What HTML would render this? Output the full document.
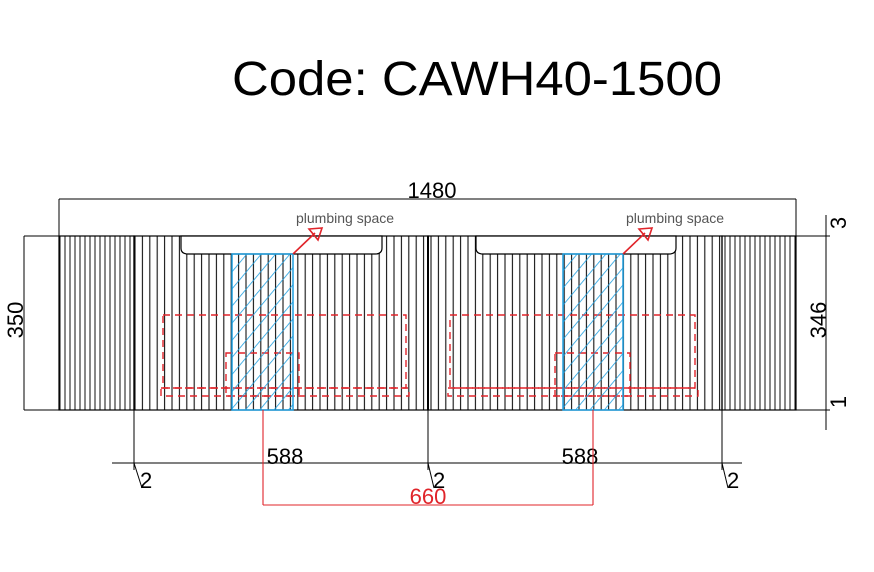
<!DOCTYPE html>
<html><head><meta charset="utf-8"><style>
body{margin:0;background:#fff;width:874px;height:572px;overflow:hidden}
svg{display:block}
</style></head><body>
<svg width="874" height="572" viewBox="0 0 874 572" xmlns="http://www.w3.org/2000/svg" font-family="Liberation Sans, sans-serif">
<defs>
<pattern id="str" x="134" y="0" width="7.4" height="10" patternUnits="userSpaceOnUse"><line x1="1" y1="0" x2="1" y2="10" stroke="#111" stroke-width="1.1"/></pattern>
<pattern id="str2" x="59" y="0" width="5" height="10" patternUnits="userSpaceOnUse"><line x1="1" y1="0" x2="1" y2="10" stroke="#111" stroke-width="1"/></pattern>
<pattern id="hat" width="11" height="11" patternUnits="userSpaceOnUse" patternTransform="rotate(40)"><line x1="0" y1="0" x2="0" y2="11" stroke="#1f9fe0" stroke-width="1.6"/></pattern>
</defs>
<text x="232" y="95" font-size="48" textLength="490" lengthAdjust="spacingAndGlyphs" fill="#000">Code: CAWH40-1500</text>
<rect x="59" y="236" width="75" height="174" fill="url(#str2)" stroke="#000" stroke-width="1.2"/>
<rect x="722" y="236" width="74" height="174" fill="url(#str2)" stroke="#000" stroke-width="1.2"/>
<rect x="134" y="236" width="294" height="174" fill="url(#str)" stroke="#000" stroke-width="1.2"/>
<rect x="428" y="236" width="294" height="174" fill="url(#str)" stroke="#000" stroke-width="1.2"/>
<line x1="428" y1="236" x2="428" y2="410" stroke="#000" stroke-width="2"/>
<path d="M181 236 V248 Q181 254 188 254 H375 Q382 254 382 248 V236 Z" fill="#fff" stroke="#000" stroke-width="1.2"/>
<path d="M476 236 V248 Q476 254 483 254 H669 Q676 254 676 248 V236 Z" fill="#fff" stroke="#000" stroke-width="1.2"/>
<g fill="none" stroke="#e0242a" stroke-width="1.4" stroke-dasharray="7 5">
<rect x="163" y="315" width="243" height="73"/><rect x="161" y="388" width="248" height="8"/>
<rect x="226" y="353" width="73" height="43"/>
<rect x="450" y="315" width="245" height="73"/><rect x="448" y="388" width="250" height="8"/>
<rect x="555" y="353" width="75" height="43"/>
</g>
<rect x="232" y="254" width="61" height="156" fill="url(#hat)" stroke="#1f9fe0" stroke-width="1.5"/>
<rect x="563" y="254" width="60" height="156" fill="url(#hat)" stroke="#1f9fe0" stroke-width="1.5"/>
<g fill="#555" font-size="14"><text x="296" y="223">plumbing space</text><text x="626" y="223">plumbing space</text></g>
<g stroke="#e0242a" stroke-width="1.6" fill="none">
<line x1="293" y1="254" x2="315" y2="233"/><path d="M309 229 L322 228 L318 240 Z"/>
<line x1="623" y1="254" x2="645" y2="233"/><path d="M639 229 L652 228 L648 240 Z"/>
</g>
<g stroke="#000" stroke-width="1" fill="none">
<line x1="59" y1="199" x2="796" y2="199"/><line x1="59" y1="199" x2="59" y2="236"/><line x1="796" y1="199" x2="796" y2="236"/>
<line x1="24" y1="236" x2="59" y2="236"/><line x1="24" y1="410" x2="59" y2="410"/><line x1="24" y1="236" x2="24" y2="410"/>
<line x1="796" y1="236" x2="830" y2="236"/><line x1="796" y1="410" x2="830" y2="410"/>
<line x1="826" y1="215" x2="826" y2="430"/>
<line x1="134" y1="410" x2="134" y2="470"/><line x1="428" y1="410" x2="428" y2="470"/><line x1="722" y1="410" x2="722" y2="470"/>
<line x1="112" y1="463" x2="742" y2="463"/>
<line x1="134" y1="463" x2="142" y2="488"/><line x1="428" y1="463" x2="434" y2="488"/><line x1="722" y1="463" x2="728" y2="488"/>
</g>
<g fill="#000" font-size="22">
<text x="432" y="198" text-anchor="middle">1480</text>
<text transform="translate(23 320) rotate(-90)" text-anchor="middle">350</text>
<text transform="translate(826 320) rotate(-90)" text-anchor="middle">346</text>
<text transform="translate(846 223) rotate(-90)" text-anchor="middle">3</text>
<text transform="translate(846 402) rotate(-90)" text-anchor="middle">1</text>
<text x="285" y="464" text-anchor="middle">588</text><text x="580" y="464" text-anchor="middle">588</text>
<text x="140" y="488">2</text><text x="433" y="488">2</text><text x="727" y="488">2</text>
</g>
<g stroke="#e0242a" stroke-width="1.1" fill="none">
<line x1="263" y1="410" x2="263" y2="505"/><line x1="593" y1="410" x2="593" y2="505"/><line x1="263" y1="505" x2="593" y2="505"/>
</g>
<text x="428" y="504" font-size="22" fill="#e0242a" text-anchor="middle">660</text>
</svg>
</body></html>
